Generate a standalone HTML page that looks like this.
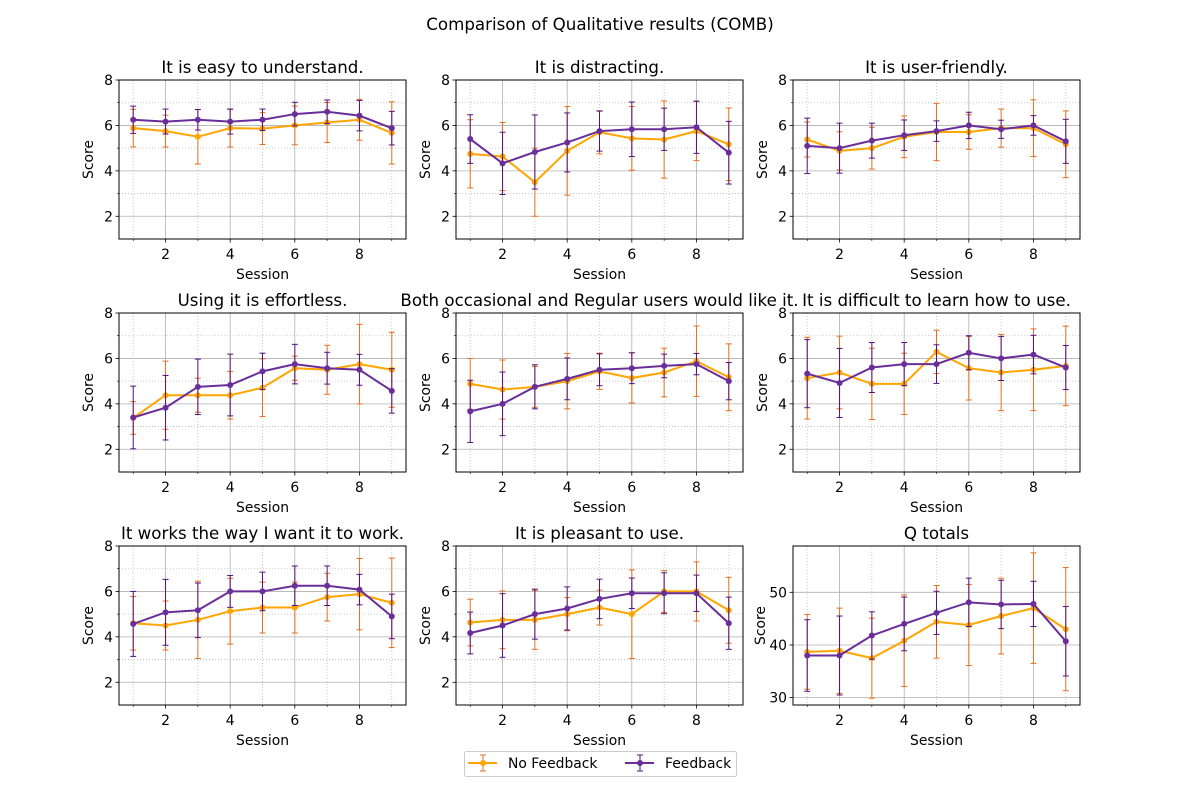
<!DOCTYPE html>
<html><head><meta charset="utf-8"><style>
body{margin:0;background:#fff;}
svg{display:block;font-family:"DejaVu Sans","Liberation Sans",sans-serif;}
</style></head><body>
<svg id="fig" width="1200" height="800" viewBox="0 0 1200 800">
<text x="600" y="30" font-size="16.67" text-anchor="middle">Comparison of Qualitative results (COMB)</text>
<g>
<rect x="464.5" y="751.5" width="272" height="25" rx="2" fill="#fff" stroke="#ccc"/>
<g>
<line x1="468" y1="763" x2="497" y2="763" stroke="#FFA500" stroke-width="2"/>
<line x1="483" y1="755" x2="483" y2="771" stroke="#E2701F" stroke-width="1"/>
<line x1="480" y1="755" x2="486" y2="755" stroke="#E2701F"/><line x1="480" y1="771" x2="486" y2="771" stroke="#E2701F"/>
<circle cx="483" cy="763" r="3" fill="#FFA500"/>
<text x="508" y="768" font-size="13.9">No Feedback</text></g>
<g>
<line x1="625" y1="763" x2="654" y2="763" stroke="#6A2E9A" stroke-width="2"/>
<line x1="640" y1="755" x2="640" y2="771" stroke="#52127E" stroke-width="1"/>
<line x1="637" y1="755" x2="643" y2="755" stroke="#52127E"/><line x1="637" y1="771" x2="643" y2="771" stroke="#52127E"/>
<circle cx="640" cy="763" r="3" fill="#6A2E9A"/>
<text x="665" y="768" font-size="13.9">Feedback</text></g>
</g>
</svg>
<script>
const sessions=[1,2,3,4,5,6,7,8,9];
const titles=["It is easy to understand.","It is distracting.","It is user-friendly.","Using it is effortless.","Both occasional and Regular users would like it.","It is difficult to learn how to use.","It works the way I want it to work.","It is pleasant to use.","Q totals"];
const nfMean=[
[5.88,5.75,5.5,5.88,5.86,6.0,6.13,6.25,5.67],
[4.75,4.63,3.5,4.88,5.7,5.43,5.38,5.75,5.17],
[5.38,4.88,5.0,5.5,5.71,5.71,5.88,5.88,5.17],
[3.38,4.38,4.38,4.38,4.71,5.57,5.5,5.75,5.5],
[4.88,4.63,4.75,5.0,5.43,5.14,5.38,5.88,5.17],
[5.13,5.38,4.88,4.88,6.29,5.57,5.38,5.5,5.67],
[4.6,4.5,4.75,5.13,5.29,5.29,5.75,5.88,5.5],
[4.63,4.75,4.75,5.0,5.29,5.0,6.0,6.0,5.17],
[38.7,38.9,37.5,40.8,44.4,43.8,45.5,47,43]];
const nfErr=[
[0.83,0.7,1.2,0.83,0.7,0.85,0.88,0.9,1.37],
[1.5,1.5,1.5,1.95,0.95,1.4,1.7,1.3,1.6],
[0.77,0.84,0.92,0.92,1.26,0.76,0.84,1.25,1.47],
[0.72,1.5,0.75,1.05,1.27,0.53,1.08,1.75,1.65],
[1.12,1.3,0.9,1.22,0.8,1.1,1.07,1.55,1.47],
[1.8,1.6,1.57,1.35,0.95,1.4,1.68,1.8,1.75],
[1.18,1.08,1.7,1.45,1.12,1.12,1.05,1.57,1.97],
[1.03,1.27,1.3,0.73,0.77,1.95,0.92,1.3,1.45],
[7.1,8.1,7.6,8.7,6.9,7.7,7.2,10.5,11.7]];
const fbMean=[
[6.25,6.17,6.25,6.17,6.25,6.5,6.6,6.43,5.88],
[5.4,4.33,4.83,5.25,5.75,5.83,5.83,5.92,4.8],
[5.1,5.0,5.33,5.57,5.75,6.0,5.83,6.0,5.3],
[3.4,3.83,4.75,4.83,5.43,5.75,5.57,5.5,4.57],
[3.67,4.0,4.75,5.1,5.5,5.57,5.67,5.75,5.0],
[5.33,4.92,5.6,5.75,5.75,6.25,6.0,6.17,5.6],
[4.57,5.08,5.17,6.0,6.0,6.25,6.25,6.08,4.9],
[4.17,4.5,5.0,5.25,5.67,5.92,5.92,5.92,4.6],
[38,38,41.8,44,46.1,48.1,47.7,47.8,40.7]];
const fbErr=[
[0.6,0.55,0.45,0.55,0.47,0.52,0.52,0.67,0.74],
[1.07,1.37,1.63,1.3,0.88,1.2,0.93,1.15,1.38],
[1.22,1.1,0.77,0.67,0.45,0.58,0.4,0.43,0.97],
[1.38,1.42,1.22,1.36,0.8,0.87,0.7,0.68,0.98],
[1.37,1.4,0.97,0.92,0.7,0.68,0.52,0.47,0.82],
[1.5,1.52,1.1,0.95,0.85,0.75,0.97,0.85,0.97],
[1.43,1.45,1.2,0.7,0.85,0.87,0.87,0.67,0.98],
[0.92,1.4,1.1,0.95,0.87,0.67,0.9,0.8,1.15],
[6.8,7.5,4.5,5.1,4.1,4.6,4.6,4.3,6.6]];
const xTicks=[2,4,6,8];
const yTicks=[2,4,6,8];
const qTicks=[30,40,50];

const NS="http://www.w3.org/2000/svg";
const svg=document.getElementById('fig');
function mk(tag,attrs,parent){const e=document.createElementNS(NS,tag);for(const k in attrs)e.setAttribute(k,attrs[k]);parent.appendChild(e);return e;}
const lefts=[119,456,793], tops=[80,313,546], W=287, H=159;
for(let p=0;p<9;p++){
  const L=lefts[p%3], T=tops[Math.floor(p/3)];
  const isQ=p===8;
  const ymin=isQ?28.6:1, ymax=isQ?58.8:8;
  const xs=v=>L+(v-0.56)/(9.44-0.56)*W;
  const ys=v=>T+H-(v-ymin)/(ymax-ymin)*H;
  const g=mk('g',{},svg);
  
  
  for(const x of [1,3,5,7,9]) mk('line',{x1:xs(x),x2:xs(x),y1:T,y2:T+H,stroke:'#bbb','stroke-width':0.8,'stroke-dasharray':'1,2'},g);
  if(!isQ) for(const y of [3,5,7]) mk('line',{x1:L,x2:L+W,y1:ys(y),y2:ys(y),stroke:'#bbb','stroke-width':0.8,'stroke-dasharray':'1,2'},g);
  const yt=isQ?qTicks:yTicks;
  for(const x of xTicks) mk('line',{x1:xs(x),x2:xs(x),y1:T,y2:T+H,stroke:'#b0b0b0','stroke-width':0.8},g);
  for(const y of yt) mk('line',{x1:L,x2:L+W,y1:ys(y),y2:ys(y),stroke:'#b0b0b0','stroke-width':0.8},g);
  for(const x of xTicks){mk('line',{x1:xs(x),x2:xs(x),y1:T+H,y2:T+H+3.5,stroke:'#000','stroke-width':0.8},g);
    const t=mk('text',{x:xs(x),y:T+H+20,'font-size':13.9,'text-anchor':'middle'},g);t.textContent=x;
    
    }
  for(const x of [1,3,5,7,9]) mk('line',{x1:xs(x),x2:xs(x),y1:T+H,y2:T+H+2,stroke:'#000','stroke-width':0.6},g);
  for(const y of yt){mk('line',{x1:L-3.5,x2:L,y1:ys(y),y2:ys(y),stroke:'#000','stroke-width':0.8},g);
    const t=mk('text',{x:L-6,y:ys(y)+5,'font-size':13.9,'text-anchor':'end'},g);t.textContent=y;
    
    }
  if(!isQ) for(const y of [3,5,7]) mk('line',{x1:L-2,x2:L,y1:ys(y),y2:ys(y),stroke:'#000','stroke-width':0.6},g);
  const xl=mk('text',{x:L+W/2,y:T+H+40,'font-size':13.9,'text-anchor':'middle'},g);xl.textContent='Session';
  
  
  const yl=mk('text',{x:0,y:0,'font-size':13.9,'text-anchor':'middle',transform:`translate(${L-(isQ?28:26)},${T+H/2}) rotate(-90)`},g);yl.textContent='Score';
  
  
  const tt=mk('text',{x:L+W/2,y:T-7,'font-size':16.67,'text-anchor':'middle'},g);tt.textContent=titles[p];
  
  
  const series=[[nfMean[p],nfErr[p],'#FFA500','#E2701F','no-feedback'],[fbMean[p],fbErr[p],'#6A2E9A','#52127E','feedback']];
  for(const [m,e,c,ec,nm] of series){
    const sg=mk('g',{},g);
    
    
    sessions.forEach((s,i)=>{
      const x=xs(s),y1=ys(m[i]-e[i]),y2=ys(m[i]+e[i]);
      mk('line',{x1:x,x2:x,y1:y1,y2:y2,stroke:ec,'stroke-width':1},sg);
      mk('line',{x1:x-3,x2:x+3,y1:y1,y2:y1,stroke:ec,'stroke-width':1},sg);
      mk('line',{x1:x-3,x2:x+3,y1:y2,y2:y2,stroke:ec,'stroke-width':1},sg);
    });
    mk('polyline',{points:sessions.map((s,i)=>xs(s)+','+ys(m[i])).join(' '),fill:'none',stroke:c,'stroke-width':2},sg);
    sessions.forEach((s,i)=>{
      const pt=mk('circle',{cx:xs(s),cy:ys(m[i]),r:3,fill:c},sg);
      
      
    });
  }
  mk('rect',{x:L,y:T,width:W,height:H,fill:'none',stroke:'#000','stroke-width':1},g);
}
</script>
</body></html>
